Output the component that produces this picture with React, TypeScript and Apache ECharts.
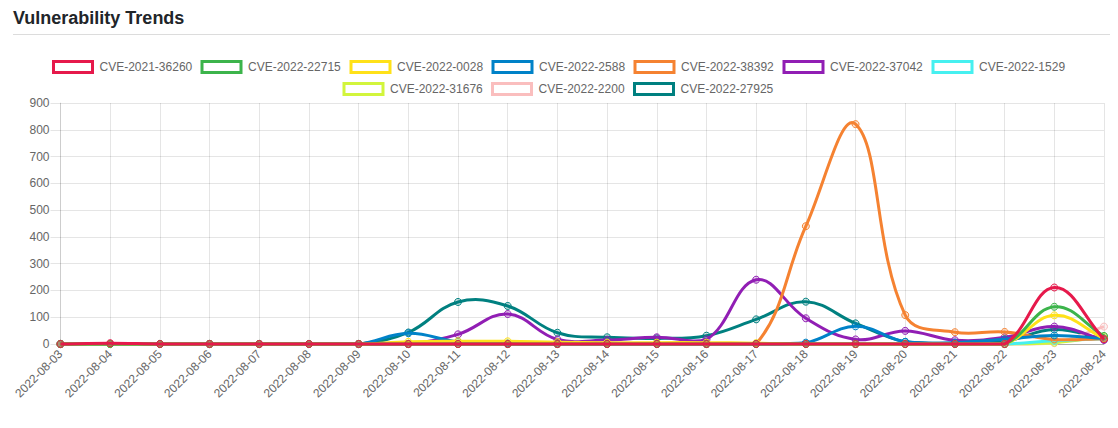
import React, { useEffect, useRef } from "react";
import * as echarts from "echarts";

const dates = [
  "2022-08-03", "2022-08-04", "2022-08-05", "2022-08-06", "2022-08-07", "2022-08-08",
  "2022-08-09", "2022-08-10", "2022-08-11", "2022-08-12", "2022-08-13", "2022-08-14",
  "2022-08-15", "2022-08-16", "2022-08-17", "2022-08-18", "2022-08-19", "2022-08-20",
  "2022-08-21", "2022-08-22", "2022-08-23", "2022-08-24",
];

const cve202136260 = [0, 3, 0, 0, 0, 0, 0, 0, 0, 0, 0, 0, 0, 0, 0, 0, 0, 0, 0, 0, 211, 18];
const cve202222715 = [0, 0, 0, 0, 0, 0, 0, 0, 0, 0, 0, 0, 0, 0, 0, 0, 0, 0, 0, 0, 139, 30];
const cve20220028 = [0, 0, 0, 0, 0, 0, 0, 8, 10, 10, 7, 5, 5, 5, 3, 0, 0, 0, 0, 0, 107, 20];
const cve20222588 = [0, 0, 0, 0, 0, 0, 0, 40, 8, 2, 1, 1, 1, 1, 1, 5, 66, 8, 5, 18, 32, 20];
const cve202238392 = [0, 0, 0, 0, 0, 0, 0, 0, 0, 0, 0, 0, 0, 0, 0, 440, 821, 108, 44, 45, 17, 20];
const cve202237042 = [0, 0, 0, 0, 0, 0, 0, 0, 36, 112, 17, 15, 25, 17, 240, 96, 17, 49, 14, 25, 65, 15];
const cve20221529 = [0, 0, 0, 0, 0, 0, 0, 0, 0, 0, 0, 0, 0, 0, 0, 0, 0, 0, 0, 0, 12, 20];
const cve202231676 = [0, 0, 0, 0, 0, 0, 0, 0, 0, 0, 0, 0, 0, 0, 0, 0, 0, 0, 0, 0, 5, 28];
const cve20222200 = [0, 0, 0, 0, 0, 0, 0, 0, 0, 0, 0, 0, 0, 0, 0, 0, 0, 0, 0, 0, 3, 65];
const cve202227925 = [0, 0, 0, 0, 0, 0, 0, 43, 157, 142, 42, 25, 21, 31, 92, 158, 77, 8, 3, 10, 54, 18];

const seriesNames = [
  "CVE-2021-36260", "CVE-2022-22715", "CVE-2022-0028", "CVE-2022-2588", "CVE-2022-38392",
  "CVE-2022-37042", "CVE-2022-1529", "CVE-2022-31676", "CVE-2022-2200", "CVE-2022-27925",
];
const seriesValues = [
  cve202136260, cve202222715, cve20220028, cve20222588, cve202238392,
  cve202237042, cve20221529, cve202231676, cve20222200, cve202227925,
];
const seriesColors = [
  "#e6194b", "#3cb44b", "#ffe119", "#0082c8", "#f58231",
  "#911eb4", "#46f0f0", "#d2f53c", "#fabebe", "#008080",
];

const yTicks = { min: 0, max: 900, interval: 100 };

// legend item positions (left edge of each legend box, and row top)
const legendLeft = [52, 200.5, 349.5, 491.5, 633.5, 782.5, 931.5, 342.5, 491, 633];
const legendTop = [60, 60, 60, 60, 60, 60, 60, 82, 82, 82];

const TENSION = 0.4;

function hexA(hex: string, a: number) {
  const r = parseInt(hex.slice(1, 3), 16);
  const g = parseInt(hex.slice(3, 5), 16);
  const b = parseInt(hex.slice(5, 7), 16);
  return `rgba(${r},${g},${b},${a})`;
}

const FONT = "'Liberation Sans', Arial, Helvetica, sans-serif";

// Cardinal spline (tension-based) through pixel points, control points capped to the plot area
function splinePath(pts: number[][], area: { l: number; r: number; t: number; b: number }) {
  const n = pts.length;
  const cap = (v: number, lo: number, hi: number) => Math.max(Math.min(v, hi), lo);
  const cps = pts.map((cur, k) => {
    const prev = k > 0 ? pts[k - 1] : cur;
    const next = k < n - 1 ? pts[k + 1] : cur;
    const d01 = Math.hypot(cur[0] - prev[0], cur[1] - prev[1]);
    const d12 = Math.hypot(next[0] - cur[0], next[1] - cur[1]);
    let s01 = d01 / (d01 + d12);
    let s12 = d12 / (d01 + d12);
    if (isNaN(s01)) s01 = 0;
    if (isNaN(s12)) s12 = 0;
    const fa = TENSION * s01;
    const fb = TENSION * s12;
    return {
      px: cap(cur[0] - fa * (next[0] - prev[0]), area.l, area.r),
      py: cap(cur[1] - fa * (next[1] - prev[1]), area.t, area.b),
      nx: cap(cur[0] + fb * (next[0] - prev[0]), area.l, area.r),
      ny: cap(cur[1] + fb * (next[1] - prev[1]), area.t, area.b),
    };
  });
  let d = `M${pts[0][0]} ${pts[0][1]}`;
  for (let k = 1; k < n; k++) {
    d += ` C${cps[k - 1].nx} ${cps[k - 1].ny} ${cps[k].px} ${cps[k].py} ${pts[k][0]} ${pts[k][1]}`;
  }
  return d;
}

export default function App() {
  const ref = useRef<HTMLDivElement>(null);
  useEffect(() => {
    if (!ref.current) return;
    const chart = echarts.init(ref.current, undefined, { renderer: "svg" });
    const N = seriesNames.length;
    const legends = seriesNames.map((name, i) => ({
      icon: "rect",
      itemWidth: 39,
      itemHeight: 11,
      itemGap: 0,
      orient: "horizontal",
      padding: 0,
      left: legendLeft[i],
      top: legendTop[i],
      selectedMode: false,
      textStyle: { color: "#666", fontSize: 12, fontFamily: FONT, padding: [0, 0, 0, 2] },
      data: [
        {
          name,
          itemStyle: { color: "#ffffff", borderColor: seriesColors[i], borderWidth: 3 },
        },
      ],
    }));
    const curveSeries = seriesNames.map((name, i) => ({
      name,
      type: "custom",
      coordinateSystem: "cartesian2d",
      silent: true,
      z: 2 + 2 * (N - i),
      data: [[0, 0]],
      encode: { x: 0, y: 1 },
      renderItem: (_params: any, api: any) => {
        const vals = seriesValues[i];
        const pts = vals.map((v, k) => api.coord([k, v]));
        const l = api.coord([0, yTicks.min])[0];
        const r = api.coord([dates.length - 1, yTicks.min])[0];
        const b = api.coord([0, yTicks.min])[1];
        const t = api.coord([0, yTicks.max])[1];
        return {
          type: "path",
          shape: { pathData: splinePath(pts, { l, r, t, b }) },
          style: { fill: "none", stroke: seriesColors[i], lineWidth: 3, lineJoin: "round" },
        };
      },
    }));
    const pointSeries = seriesNames.map((name, i) => ({
      name,
      type: "line",
      data: seriesValues[i],
      z: 3 + 2 * (N - i),
      symbol: "circle",
      symbolSize: 7,
      showSymbol: true,
      lineStyle: { width: 0, opacity: 0 },
      itemStyle: { color: hexA(seriesColors[i], 0.2), borderColor: seriesColors[i], borderWidth: 1 },
      emphasis: { disabled: true },
    }));
    chart.setOption({
      animation: false,
      title: {
        text: "Vulnerability Trends",
        left: 13,
        top: 9,
        padding: 0,
        textStyle: { color: "#212529", fontSize: 18, fontWeight: "bold", fontFamily: FONT },
      },
      graphic: [
        {
          type: "line",
          shape: { x1: 13, y1: 34.5, x2: 1110, y2: 34.5 },
          style: { stroke: "#dcdcdc", lineWidth: 1 },
          silent: true,
        },
      ],
      legend: legends,
      grid: { left: 60.5, right: 14, top: 103, bottom: 84, containLabel: false },
      xAxis: {
        type: "category",
        data: dates,
        boundaryGap: false,
        axisLine: { show: true, lineStyle: { color: "rgba(0,0,0,0.25)" } },
        axisTick: { show: false },
        splitLine: { show: true, lineStyle: { color: "rgba(0,0,0,0.1)", width: 1 } },
        axisLabel: {
          rotate: 45,
          interval: 0,
          margin: 8,
          color: "#666",
          fontSize: 12,
          fontFamily: FONT,
        },
      },
      yAxis: {
        type: "value",
        min: yTicks.min,
        max: yTicks.max,
        interval: yTicks.interval,
        axisLine: { show: true, lineStyle: { color: "rgba(0,0,0,0.1)" } },
        axisTick: { show: true, length: 10, lineStyle: { color: "rgba(0,0,0,0.1)" } },
        splitLine: { show: true, lineStyle: { color: "rgba(0,0,0,0.1)", width: 1 } },
        axisLabel: { margin: 11, color: "#666", fontSize: 12, fontFamily: FONT },
      },
      series: [...curveSeries, ...pointSeries],
    });
    return () => chart.dispose();
  }, []);
  return <div ref={ref} style={{ width: 1118, height: 428, position: "absolute", left: 0, top: 0 }} />;
}
